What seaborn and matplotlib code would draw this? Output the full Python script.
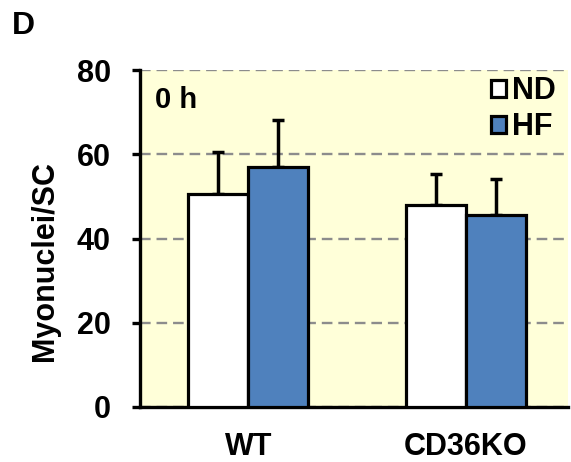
import matplotlib
matplotlib.use("Agg")
import matplotlib.pyplot as plt
import seaborn as sns
import pandas as pd
import numpy as np

genotypes = ["WT", "WT", "CD36KO", "CD36KO"]
diets = ["ND", "HF", "ND", "HF"]
means = [50.5, 57.0, 48.0, 45.5]
errors = [10.1, 11.2, 7.2, 8.7]
yticks = [0, 20, 40, 60, 80]

df = pd.DataFrame({"Genotype": genotypes, "Diet": diets, "Myonuclei/SC": means})

sns.set_theme(style="white")
plt.rcParams["font.family"] = ["Liberation Sans", "DejaVu Sans"]
plt.rcParams["font.weight"] = "bold"
for k in ["text.color", "axes.labelcolor", "xtick.color", "ytick.color"]:
    plt.rcParams[k] = "black"

fig = plt.figure(figsize=(5.71, 4.62), dpi=100)
ax = fig.add_axes([140 / 571, (462 - 407) / 462, (568 - 140) / 571, (407 - 70) / 462])
ax.set_facecolor("#FFFFD9")

sns.barplot(data=df, x="Genotype", y="Myonuclei/SC", hue="Diet",
            order=["WT", "CD36KO"], hue_order=["ND", "HF"],
            palette={"ND": "white", "HF": "#4F81BD"}, saturation=1,
            width=0.553, edgecolor="black", linewidth=2.3,
            errorbar=None, ax=ax, zorder=3)

# error bars (upper only) placed at bar centres
patches = [p for p in ax.patches if p.get_height() > 0]
xs = sorted(p.get_x() + p.get_width() / 2 for p in patches)
for xc, m, e in zip(xs, means, errors):
    ax.errorbar(xc, m, yerr=[[0], [e]], fmt="none", ecolor="black",
                elinewidth=2.5, capsize=4, capthick=2.5, zorder=2)

ax.set_ylim(0, 80)
ax.set_xlim(-0.498, 1.47)
ax.set_yticks(yticks)
ax.set_yticklabels([str(t) for t in yticks], fontsize=22, fontweight="bold")
ax.set_xticklabels(["WT", "CD36KO"], fontsize=22, fontweight="bold")
ax.yaxis.grid(True, linestyle=(0, (4.5, 2.5)), color="#8C8C8C", linewidth=1.7, zorder=0)
ax.set_axisbelow(True)

for s in ["top", "right"]:
    ax.spines[s].set_visible(False)
for s in ["left", "bottom"]:
    ax.spines[s].set_linewidth(2.4)
    ax.spines[s].set_color("black")
ax.tick_params(axis="y", direction="out", length=6, width=2.4, pad=15, left=True)
ax.tick_params(axis="x", length=0, pad=18)

ax.set_xlabel("")
ax.set_ylabel("Myonuclei/SC", fontsize=22, fontweight="bold")
ax.yaxis.set_label_coords(-0.188, 0.432)

leg = ax.legend(loc="upper right", bbox_to_anchor=(0.985, 1.0), frameon=False,
                prop={"weight": "bold", "size": 22},
                handlelength=0.48, handleheight=0.48, handletextpad=0.2,
                labelspacing=0.2, borderaxespad=0.0, borderpad=0.2)
for h in leg.legend_handles:
    h.set_edgecolor("black")
    h.set_linewidth(2.3)

ax.text(0.035, 0.91, "0 h", transform=ax.transAxes, fontsize=21,
        fontweight="bold", va="center", ha="left")
fig.text(12 / 571, 1 - 26 / 462, "D", fontsize=23, fontweight="bold",
         va="center", ha="left")

fig.savefig("out.png", dpi=100)
